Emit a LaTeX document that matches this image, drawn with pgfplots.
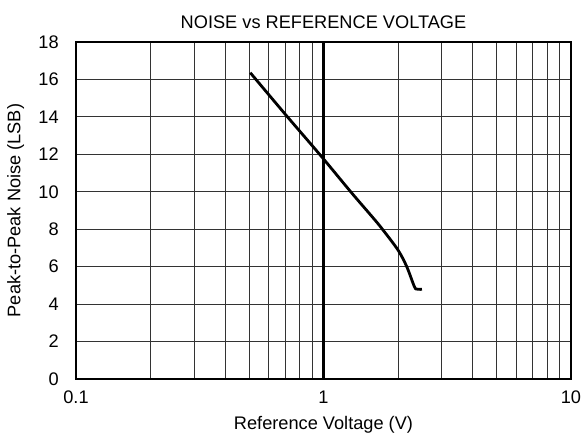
\documentclass[border=0pt]{standalone}
\usepackage{fontspec}
\setmainfont{Liberation Sans}
\usepackage{pgfplots}
\pgfplotsset{compat=1.18}
\begin{document}
\fontsize{18.2}{22}\selectfont
\begin{tikzpicture}
\begin{axis}[
  name=ax,
  scale only axis,
  width=495pt, height=337pt,
  xmode=log,
  xmin=0.1, xmax=10,
  ymin=0, ymax=18,
  ytick={0,2,...,18},
  xtick={0.1,10},
  xticklabels={0.1,10},
  extra x ticks={1},
  extra x tick labels={1},
  extra x tick style={major grid style={black,line width=2.4pt}},
  minor xtick={0.2,0.3,0.4,0.5,0.6,0.7,0.8,0.9,2,3,4,5,6,7,8,9},
  grid=both,
  major grid style={black!80,line width=0.8pt},
  minor grid style={black!80,line width=0.8pt},
  major tick length=0pt, minor tick length=0pt,
  axis line style={black,line width=2.6pt},
  /pgf/number format/assume math mode=true,
  tick label style={font=\fontsize{18.2}{22}\selectfont},
  yticklabel style={xshift=-11pt},
  xticklabel style={yshift=-6pt},
  label style={font=\fontsize{18.2}{22}\selectfont},
  title style={font=\fontsize{18.2}{22}\selectfont, yshift=1pt},
  title={NOISE vs REFERENCE VOLTAGE},
  xlabel={Reference Voltage (V)},
  ylabel={Peak-to-Peak Noise (LSB)},
  xlabel style={yshift=0pt},
  ylabel style={yshift=2pt},
]
\addplot[black, line width=2.8pt, smooth, tension=0.5] coordinates {
(0.506,16.36) (0.707,14.08) (0.979,11.9) (1.29,9.99) (1.6,8.55)
(1.73,8.0) (2.0,6.89) (2.17,6.0) (2.33,4.93) (2.39,4.80) (2.5,4.79)
};
\end{axis}
\pgfresetboundingbox
\path[use as bounding box] ([xshift=-76pt,yshift=-64pt]ax.south west) rectangle ([xshift=12pt,yshift=42pt]ax.north east);
\end{tikzpicture}
\end{document}
